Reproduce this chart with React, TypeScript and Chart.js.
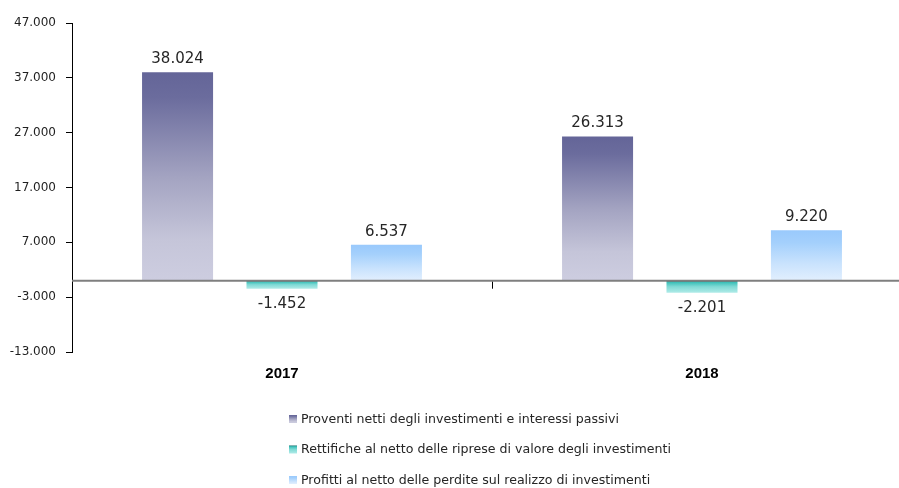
import React, { useEffect, useRef } from "react";
import { Chart, registerables } from "chart.js";

Chart.register(...registerables);

const categories = ["2017", "2018"];
const seriesNames = [
  "Proventi netti degli investimenti e interessi passivi",
  "Rettifiche al netto delle riprese di valore degli investimenti",
  "Profitti al netto delle perdite sul realizzo di investimenti",
];
const proventi = [38024, 26313];
const rettifiche = [-1452, -2201];
const profitti = [6537, 9220];
const yMin = -13000;
const yMax = 47000;
const yStep = 10000;

type Stops = [number, string][];
const purpleStops: Stops = [
  [0, "#646598"],
  [0.12, "#6b6c9d"],
  [0.5, "#a3a3c1"],
  [0.8, "#c5c5d9"],
  [1, "#cdcde0"],
];
const tealStops: Stops = [
  [0, "#0d6a6a"],
  [0.15, "#3fc1ba"],
  [0.5, "#80dad5"],
  [1, "#b0ebe8"],
];
const blueStops: Stops = [
  [0, "#99c9fc"],
  [0.25, "#a4d0fc"],
  [0.65, "#c8e2fd"],
  [1, "#e2effe"],
];
const allStops = [purpleStops, tealStops, blueStops];

const fmt = (v: number) => {
  const s = Math.round(Math.abs(v)).toString().replace(/\B(?=(\d{3})+(?!\d))/g, ".");
  return (v < 0 ? "-" : "") + s;
};

const gradFill = (stops: Stops) => (c: any) => {
  const chart = c.chart;
  const { ctx, chartArea, scales } = chart;
  if (!chartArea || c.type !== "data" || !scales.y) return stops[0][1];
  const v = c.raw as number;
  const y0 = scales.y.getPixelForValue(0);
  const y1 = scales.y.getPixelForValue(v);
  const top = Math.min(y0, y1);
  const bot = Math.max(y0, y1) + 0.01;
  const g = ctx.createLinearGradient(0, top, 0, bot);
  stops.forEach(([o, col]) => g.addColorStop(o, col));
  return g;
};

const overlayPlugin = {
  id: "overlay",
  afterDatasetsDraw(chart: any) {
    const { ctx, chartArea, scales } = chart;
    const y0 = scales.y.getPixelForValue(0);
    ctx.save();
    // zero line
    ctx.strokeStyle = "#7f7f7f";
    ctx.lineWidth = 2;
    ctx.beginPath();
    ctx.moveTo(chartArea.left, y0);
    ctx.lineTo(chartArea.right, y0);
    ctx.stroke();
    // category divider tick
    ctx.strokeStyle = "#000";
    ctx.lineWidth = 1;
    for (let i = 0; i < categories.length - 1; i++) {
      const x = Math.round(scales.x.getPixelForValue(i + 0.5)) + 0.5;
      ctx.beginPath();
      ctx.moveTo(x, y0 + 1);
      ctx.lineTo(x, y0 + 8);
      ctx.stroke();
    }
    // data labels
    ctx.font = "15px 'DejaVu Sans'";
    ctx.fillStyle = "#262626";
    ctx.textAlign = "center";
    chart.data.datasets.forEach((ds: any, di: number) => {
      const meta = chart.getDatasetMeta(di);
      meta.data.forEach((el: any, i: number) => {
        const v = ds.data[i] as number;
        if (v >= 0) {
          ctx.textBaseline = "alphabetic";
          ctx.fillText(fmt(v), el.x, el.y - 9);
        } else {
          ctx.textBaseline = "top";
          ctx.fillText(fmt(v), el.x, el.y + 8);
        }
      });
    });
    ctx.restore();
  },
  afterDraw(chart: any) {
    const { ctx, chartArea } = chart;
    ctx.save();
    const x0 = chartArea.left + 217;
    const yStart = 419;
    const dy = 30.5;
    ctx.font = "12.6px 'DejaVu Sans'";
    ctx.textBaseline = "middle";
    ctx.textAlign = "left";
    seriesNames.forEach((name, i) => {
      const y = yStart + i * dy;
      const g = ctx.createLinearGradient(0, y - 4, 0, y + 4);
      allStops[i].forEach(([o, col]) => g.addColorStop(o, col));
      ctx.fillStyle = g;
      ctx.fillRect(x0, y - 4, 8, 8);
      ctx.fillStyle = "#262626";
      ctx.fillText(name, x0 + 12, y + 0.5);
    });
    ctx.restore();
  },
};

export default function App() {
  const ref = useRef<HTMLCanvasElement | null>(null);
  useEffect(() => {
    if (!ref.current) return;
    const chart = new Chart(ref.current, {
      type: "bar",
      data: {
        labels: categories,
        datasets: [
          { label: seriesNames[0], data: proventi, backgroundColor: gradFill(purpleStops) as any },
          { label: seriesNames[1], data: rettifiche, backgroundColor: gradFill(tealStops) as any },
          { label: seriesNames[2], data: profitti, backgroundColor: gradFill(blueStops) as any },
        ],
      },
      options: {
        animation: false,
        responsive: false,
        maintainAspectRatio: false,
        events: [],
        layout: { padding: { top: 23, left: 0, right: 0, bottom: 0 } },
        datasets: {
          bar: { categoryPercentage: 0.746, barPercentage: 0.68, borderWidth: 0 },
        },
        plugins: {
          legend: { display: false },
          tooltip: { enabled: false },
        },
        scales: {
          x: {
            grid: { display: false, drawTicks: false },
            border: { display: false },
            ticks: {
              padding: 13,
              color: "#000",
              font: { family: "'Liberation Sans', Arial, sans-serif", size: 15, weight: "bold" },
            },
            afterFit: (s: any) => {
              s.height = 136;
            },
          },
          y: {
            min: yMin,
            max: yMax,
            ticks: {
              stepSize: yStep,
              padding: 10,
              color: "#1f1f1f",
              font: { family: "'DejaVu Sans'", size: 12 },
              callback: (v: any) => fmt(Number(v)),
            },
            grid: {
              display: true,
              drawOnChartArea: false,
              drawTicks: true,
              tickLength: 6,
              tickColor: "#000",
            },
            border: { display: true, color: "#000", width: 1 },
            afterFit: (s: any) => {
              s.width = 72;
            },
          },
        },
      },
      plugins: [overlayPlugin],
    });
    return () => chart.destroy();
  }, []);
  return (
    <div
      style={{
        position: "fixed",
        left: 0,
        top: 0,
        width: 899,
        height: 488,
        overflow: "hidden",
        background: "#fff",
      }}
    >
      <canvas ref={ref} width={912} height={488} style={{ width: 912, height: 488, display: "block" }} />
    </div>
  );
}
